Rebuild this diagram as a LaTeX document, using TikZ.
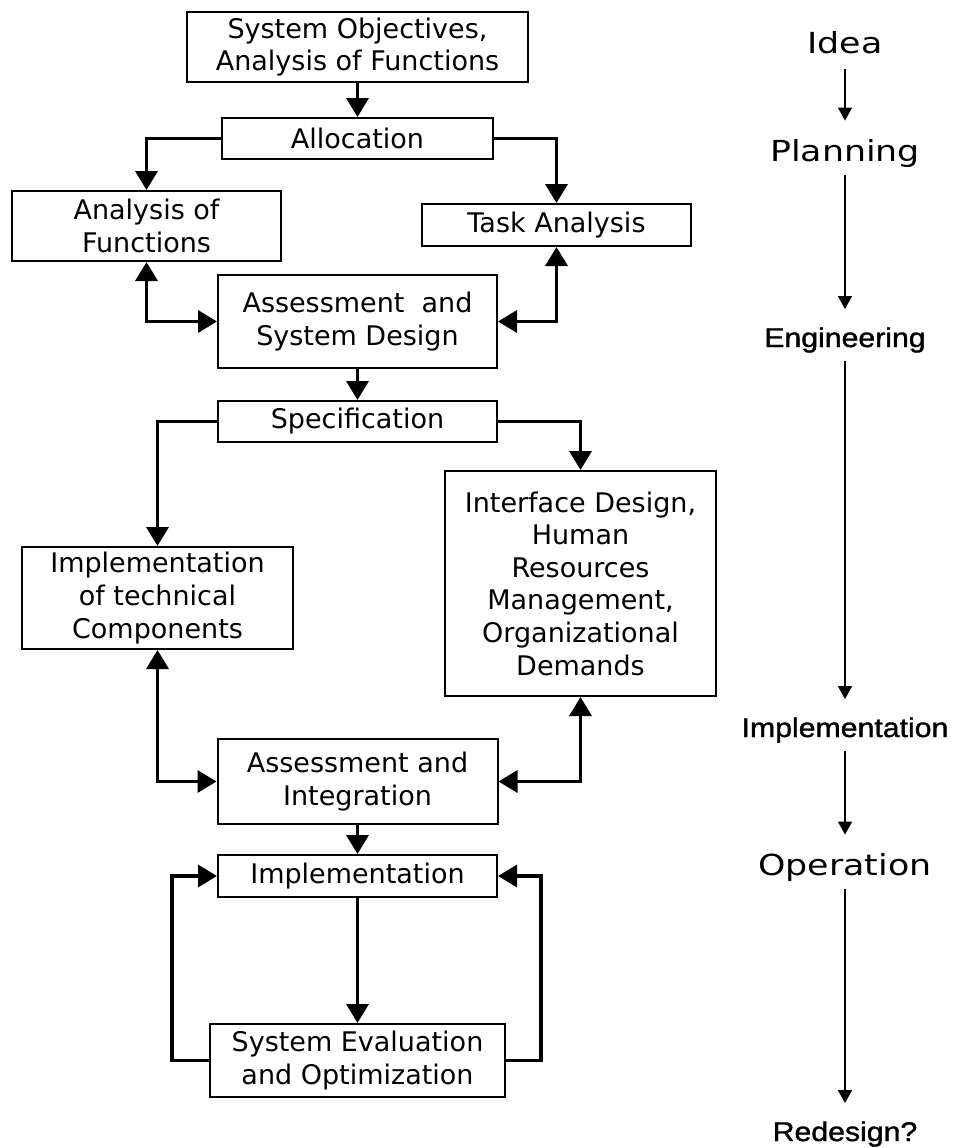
\documentclass[tikz,border=0pt]{standalone}
\usepackage{fontspec}
\setmainfont{DejaVu Sans}
\newfontfamily\arialfont[FakeBold=1.2]{Liberation Sans}
\usepackage{graphicx}
\usetikzlibrary{arrows.meta}
\begin{document}
\begin{tikzpicture}[x=0.5pt,y=-0.5pt,
  box/.style={draw=black, line width=1pt, rectangle, inner sep=0pt, align=center,
    font=\fontsize{13.5}{16.3}\selectfont},
  conn/.style={line width=1.75pt, -{Triangle[width=11pt,length=9.5pt]}},
  dconn/.style={line width=1.75pt, {Triangle[width=11pt,length=9.5pt]}-{Triangle[width=11pt,length=9.5pt]}},
  phase/.style={anchor=base, inner sep=0pt, font=\fontsize{14.5}{16}\selectfont},
  phasea/.style={anchor=base, inner sep=0pt, font=\arialfont\fontsize{13.5}{16}\selectfont},
  parr/.style={line width=0.8pt, -{Triangle[width=7pt,length=6.5pt]}, shorten <=4pt, shorten >=9pt}
]
\fill[white] (0,0) rectangle (958,1148);
\path[use as bounding box] (0,0) rectangle (958,1148);

% boxes
\node[box, minimum width=170.5pt, minimum height=35pt] (obj) at (357.5,47) {System Objectives,\\Analysis of Functions};
\node[box, minimum width=135.5pt, minimum height=20.5pt] (alloc) at (357.5,138.5) {Allocation};
\node[box, minimum width=134.5pt, minimum height=35pt] (aof) at (146.5,226) {Analysis of\\Functions};
\node[box, minimum width=134.5pt, minimum height=21pt] (task) at (556.5,225) {Task Analysis};
\node[box, minimum width=139.5pt, minimum height=46.5pt] (asd) at (357.5,321.5) {Assessment\ \ and\\System Design};
\node[box, minimum width=139.5pt, minimum height=20.5pt] (spec) at (357.5,421.5) {Specification};
\node[box, minimum width=135.5pt, minimum height=51pt] (itc) at (157.5,598) {Implementation\\of technical\\Components};
\node[box, minimum width=135.5pt, minimum height=112.5pt] (iface) at (580.5,583.5) {Interface Design,\\Human\\Resources\\Management,\\Organizational\\Demands};
\node[box, minimum width=140pt, minimum height=42.5pt] (ai) at (357.5,781.5) {Assessment and\\Integration};
\node[box, minimum width=139.5pt, minimum height=21pt] (impl) at (357.5,876) {Implementation};
\node[box, minimum width=147.5pt, minimum height=36.5pt] (seo) at (357.5,1060.5) {System Evaluation\\and Optimization};

% connectors
\draw[conn] (obj.south) -- (alloc.north);
\draw[conn] (alloc.west) -| (aof.north);
\draw[conn] (alloc.east) -| (task.north);
\draw[dconn] (aof.south) |- (asd.west);
\draw[dconn] (task.south) |- (asd.east);
\draw[conn] (asd.south) -- (spec.north);
\draw[conn] (spec.west) -| (itc.north);
\draw[conn] (spec.east) -| (iface.north);
\draw[dconn] (itc.south) |- (ai.west);
\draw[dconn] (iface.south) |- (ai.east);
\draw[conn] (ai.south) -- (impl.north);
\draw[conn] (impl.south) -- (seo.north);
\draw[conn] (seo.west) -- ++(-37,0) |- (impl.west);
\draw[conn] (seo.east) -- ++(35,0) |- (impl.east);

% phases
\node[phase] (idea) at (845,53) {\scalebox{1.2}[1]{Idea}};
\node[phase] (plan) at (845,161) {\scalebox{1.2}[1]{Planning}};
\node[phasea] (eng) at (845,347) {\scalebox{1.12}[1]{Engineering}};
\node[phasea] (impl2) at (845,737) {\scalebox{1.12}[1]{Implementation}};
\node[phase] (oper) at (845,875) {\scalebox{1.2}[1]{Operation}};
\node[phasea] (red) at (845,1141) {\scalebox{1.12}[1]{Redesign?}};

\draw[parr, shorten <=7.5pt] (idea.south) -- (plan.north);
\draw[parr] (plan.south) -- (eng.north);
\draw[parr] (eng.south) -- (impl2.north);
\draw[parr] (impl2.south) -- (oper.north);
\draw[parr] (oper.south) -- (red.north);
\end{tikzpicture}
\end{document}
